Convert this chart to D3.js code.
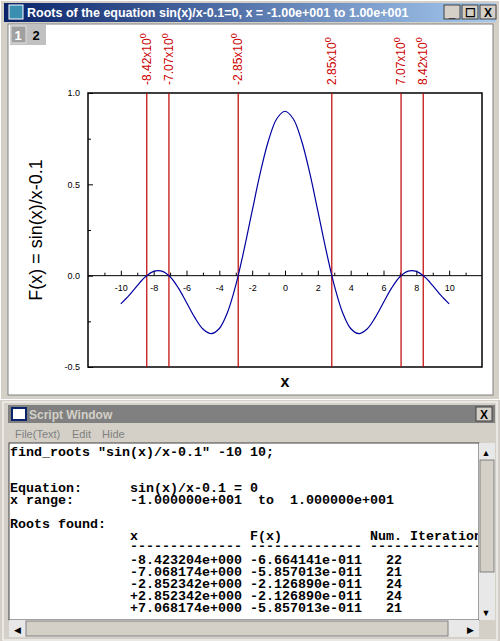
<!DOCTYPE html>
<html><head><meta charset="utf-8">
<script src="https://cdn.jsdelivr.net/npm/d3@7"></script>
<style>body{margin:0;background:#d4d0c8;}svg{display:block;font-family:Arial,"Liberation Sans",sans-serif;}</style>
</head><body><svg id="c" width="500" height="641"></svg>
<script>
const curveX = [-10,-9.5,-9,-8.5,-8,-7.5,-7,-6.5,-6,-5.5,-5,-4.5,-4,-3.5,-3,-2.5,-2,-1.5,-1,-0.5,0,0.5,1,1.5,2,2.5,3,3.5,4,4.5,5,5.5,6,6.5,7,7.5,8,8.5,9,9.5,10];
const curveYHalf = [0.9,0.8589,0.7415,0.565,0.3546,0.1394,-0.053,-0.2002,-0.2892,-0.3172,-0.2918,-0.2283,-0.1466,-0.0669,-0.0061,0.0251,0.0237,-0.0061,-0.0542,-0.1079,-0.1544];
const curveY = curveYHalf.slice(1).reverse().concat(curveYHalf);
const roots = [-8.42,-7.07,-2.85,2.85,7.07,8.42];
const rootLabels = ["-8.42x10","-7.07x10","-2.85x10","2.85x10","7.07x10","8.42x10"];
const xTicks = [-10,-8,-6,-4,-2,0,2,4,6,8,10];
const yTicks = [-0.5,0,0.5,1.0];
const scriptLines = [
 ["find_roots \"sin(x)/x-0.1\" -10 10;",10,456],
 ["Equation:",10,492],["sin(x)/x-0.1 = 0",130,492],
 ["x range:",10,504],["-1.000000e+001  to  1.000000e+001",130,504],
 ["Roots found:",10,528],
 ["x",130,540],["F(x)",250,540],["Num. Iteration",370,540],
 ["--------------",130,550],["--------------",250,550],["---------------",370,550],
 ["-8.423204e+000",130,564],["-6.664141e-011",250,564],["22",386,564],
 ["-7.068174e+000",130,576],["-5.857013e-011",250,576],["21",386,576],
 ["-2.852342e+000",130,588],["-2.126890e-011",250,588],["24",386,588],
 ["+2.852342e+000",130,600],["-2.126890e-011",250,600],["24",386,600],
 ["+7.068174e+000",130,612],["-5.857013e-011",250,612],["21",386,612]
];
const svg = d3.select("#c");
svg.append("rect").attr("x",0).attr("y",0).attr("width",500).attr("height",400).attr("fill","#d4d0c8");
svg.append("rect").attr("x",0.5).attr("y",0.5).attr("width",499).attr("height",399).attr("fill","none").attr("stroke","#fff");
const g1 = svg.append("defs").append("linearGradient").attr("id","tb");
g1.append("stop").attr("offset","0").attr("stop-color","#0a246a");
g1.append("stop").attr("offset","1").attr("stop-color","#a6caf0");
svg.append("rect").attr("x",4).attr("y",3).attr("width",492).attr("height",19).attr("fill","url(#tb)");
svg.append("rect").attr("x",9).attr("y",5).attr("width",14).attr("height",14).attr("fill","#3a8fb0").attr("stroke","#fff");
svg.append("text").attr("x",27).attr("y",17).attr("fill","#fff").attr("font-weight","bold").attr("font-size",12.5)
  .text("Roots of the equation sin(x)/x-0.1=0, x = -1.00e+001 to 1.00e+001");
[444,462,480].forEach((bx,i)=>{
  svg.append("rect").attr("x",bx).attr("y",5).attr("width",16).attr("height",14).attr("fill","#d4d0c8").attr("stroke","#404040");
  svg.append("text").attr("x",bx+8).attr("y",17).attr("text-anchor","middle").attr("font-size",12).attr("font-weight","bold").text(["_","☐","X"][i]);
});
svg.append("rect").attr("x",8).attr("y",24).attr("width",485).attr("height",371).attr("fill","#fff").attr("stroke","#808080");
svg.append("rect").attr("x",10).attr("y",25).attr("width",36).attr("height",20).attr("fill","#c0c0c0");
svg.append("rect").attr("x",11).attr("y",26).attr("width",15).attr("height",17).attr("fill","#a0a0a0").attr("stroke","#e0e0e0");
svg.append("text").attr("x",18).attr("y",40).attr("text-anchor","middle").attr("fill","#fff").attr("font-size",13).attr("font-weight","bold").text("1");
svg.append("text").attr("x",36).attr("y",40).attr("text-anchor","middle").attr("font-size",13).attr("font-weight","bold").text("2");
const L=88,R=482,T=93,B=367;
const x = d3.scaleLinear().domain([-12,12]).range([L,R]);
const y = d3.scaleLinear().domain([-0.5,1.0]).range([B,T]);
svg.append("rect").attr("x",L).attr("y",T).attr("width",R-L).attr("height",B-T).attr("fill","none").attr("stroke","#000").attr("stroke-width",1.5);
const ya = svg.append("g").attr("transform",`translate(${L},0)`).call(d3.axisRight(y).tickValues(yTicks).tickSize(5).tickFormat(d3.format(".1f")));
ya.select(".domain").remove();
ya.selectAll("text").attr("x",-8).attr("text-anchor","end").attr("font-size",9).attr("font-family","Arial").text(d=>d.toFixed(1));
const ym = svg.append("g").attr("transform",`translate(${L},0)`).call(d3.axisRight(y).tickValues([-0.25,0.25,0.75]).tickSize(3).tickFormat(""));
ym.select(".domain").remove();
const xa = svg.append("g").attr("transform",`translate(0,${y(0)})`).call(d3.axisTop(x).tickValues(xTicks).tickSize(5));
xa.select(".domain").attr("d",`M${L},0H${R}`);
xa.selectAll("text").attr("y",15).attr("dy",0).attr("font-size",9).attr("font-family","Arial").text(d=>String(d));
const xm = svg.append("g").attr("transform",`translate(0,${y(0)})`).call(d3.axisTop(x).tickValues(d3.range(-11,12,2)).tickSize(3).tickFormat(""));
xm.select(".domain").remove();
svg.append("g").selectAll("line").data(roots).join("line").attr("x1",d=>x(d)).attr("x2",d=>x(d)).attr("y1",T).attr("y2",B).attr("stroke","#c00000").attr("stroke-width",1.2);
const rl = svg.append("g").selectAll("text").data(roots).join("text").attr("transform",d=>`translate(${x(d)+4},85) rotate(-90)`)
  .attr("fill","#cc0000").attr("font-size",12);
rl.append("tspan").text((d,i)=>rootLabels[i]);
rl.append("tspan").attr("dy",-5).attr("font-size",9).text("0");
svg.append("path").datum(curveX.map((v,i)=>[v,curveY[i]])).attr("fill","none").attr("stroke","#0000a0").attr("stroke-width",1.2)
  .attr("d",d3.line().x(d=>x(d[0])).y(d=>y(d[1])).curve(d3.curveCatmullRom));
svg.append("text").attr("transform","translate(42,230) rotate(-90)").attr("text-anchor","middle").attr("font-size",18).text("F(x) = sin(x)/x-0.1");
svg.append("text").attr("x",285).attr("y",387).attr("text-anchor","middle").attr("font-size",16).attr("font-weight","bold").text("x");
svg.append("rect").attr("x",3).attr("y",402).attr("width",494).attr("height",238).attr("fill","#d4d0c8").attr("stroke","#fff");
svg.append("rect").attr("x",8).attr("y",405).attr("width",487).attr("height",18).attr("fill","#808080");
svg.append("rect").attr("x",12).attr("y",408).attr("width",14).attr("height",12).attr("fill","#fff").attr("stroke","#0a246a").attr("stroke-width",2);
svg.append("text").attr("x",29).attr("y",419).attr("fill","#d4d0c8").attr("font-weight","bold").attr("font-size",12).text("Script Window");
svg.append("rect").attr("x",476).attr("y",407).attr("width",16).attr("height",14).attr("fill","#d4d0c8").attr("stroke","#404040");
svg.append("text").attr("x",484).attr("y",419).attr("text-anchor","middle").attr("font-weight","bold").attr("font-size",12).text("X");
[["File(Text)",15],["Edit",72],["Hide",102]].forEach(m=>svg.append("text").attr("x",m[1]).attr("y",438).attr("fill","#808080").attr("font-size",11).text(m[0]));
svg.append("rect").attr("x",9).attr("y",443).attr("width",470).attr("height",177).attr("fill","#fff").attr("stroke","#404040");
svg.append("rect").attr("x",479).attr("y",443).attr("width",16).attr("height",177).attr("fill","#e8e8e8");
svg.append("rect").attr("x",480).attr("y",460).attr("width",14).attr("height",112).attr("fill","#d4d0c8").attr("stroke","#808080");
svg.append("rect").attr("x",9).attr("y",620).attr("width",470).attr("height",17).attr("fill","#e8e8e8");
svg.append("rect").attr("x",26).attr("y",621).attr("width",422).attr("height",15).attr("fill","#d4d0c8").attr("stroke","#808080");
svg.append("text").attr("x",486).attr("y",456).attr("font-size",9).attr("text-anchor","middle").text("▲");
svg.append("text").attr("x",486).attr("y",616).attr("font-size",9).attr("text-anchor","middle").text("▼");
svg.append("text").attr("x",17).attr("y",633).attr("font-size",9).attr("text-anchor","middle").text("◀");
svg.append("text").attr("x",470).attr("y",633).attr("font-size",9).attr("text-anchor","middle").text("▶");
svg.append("defs").append("clipPath").attr("id","tc").append("rect").attr("x",9).attr("y",443).attr("width",469).attr("height",177);
svg.append("g").attr("clip-path","url(#tc)").selectAll("text").data(scriptLines).join("text")
  .attr("x",d=>d[1]).attr("y",d=>d[2]).attr("font-family","'Liberation Mono','DejaVu Sans Mono',monospace").attr("font-weight","bold")
  .attr("font-size",13.33).style("white-space","pre").text(d=>d[0]);
</script></body></html>
